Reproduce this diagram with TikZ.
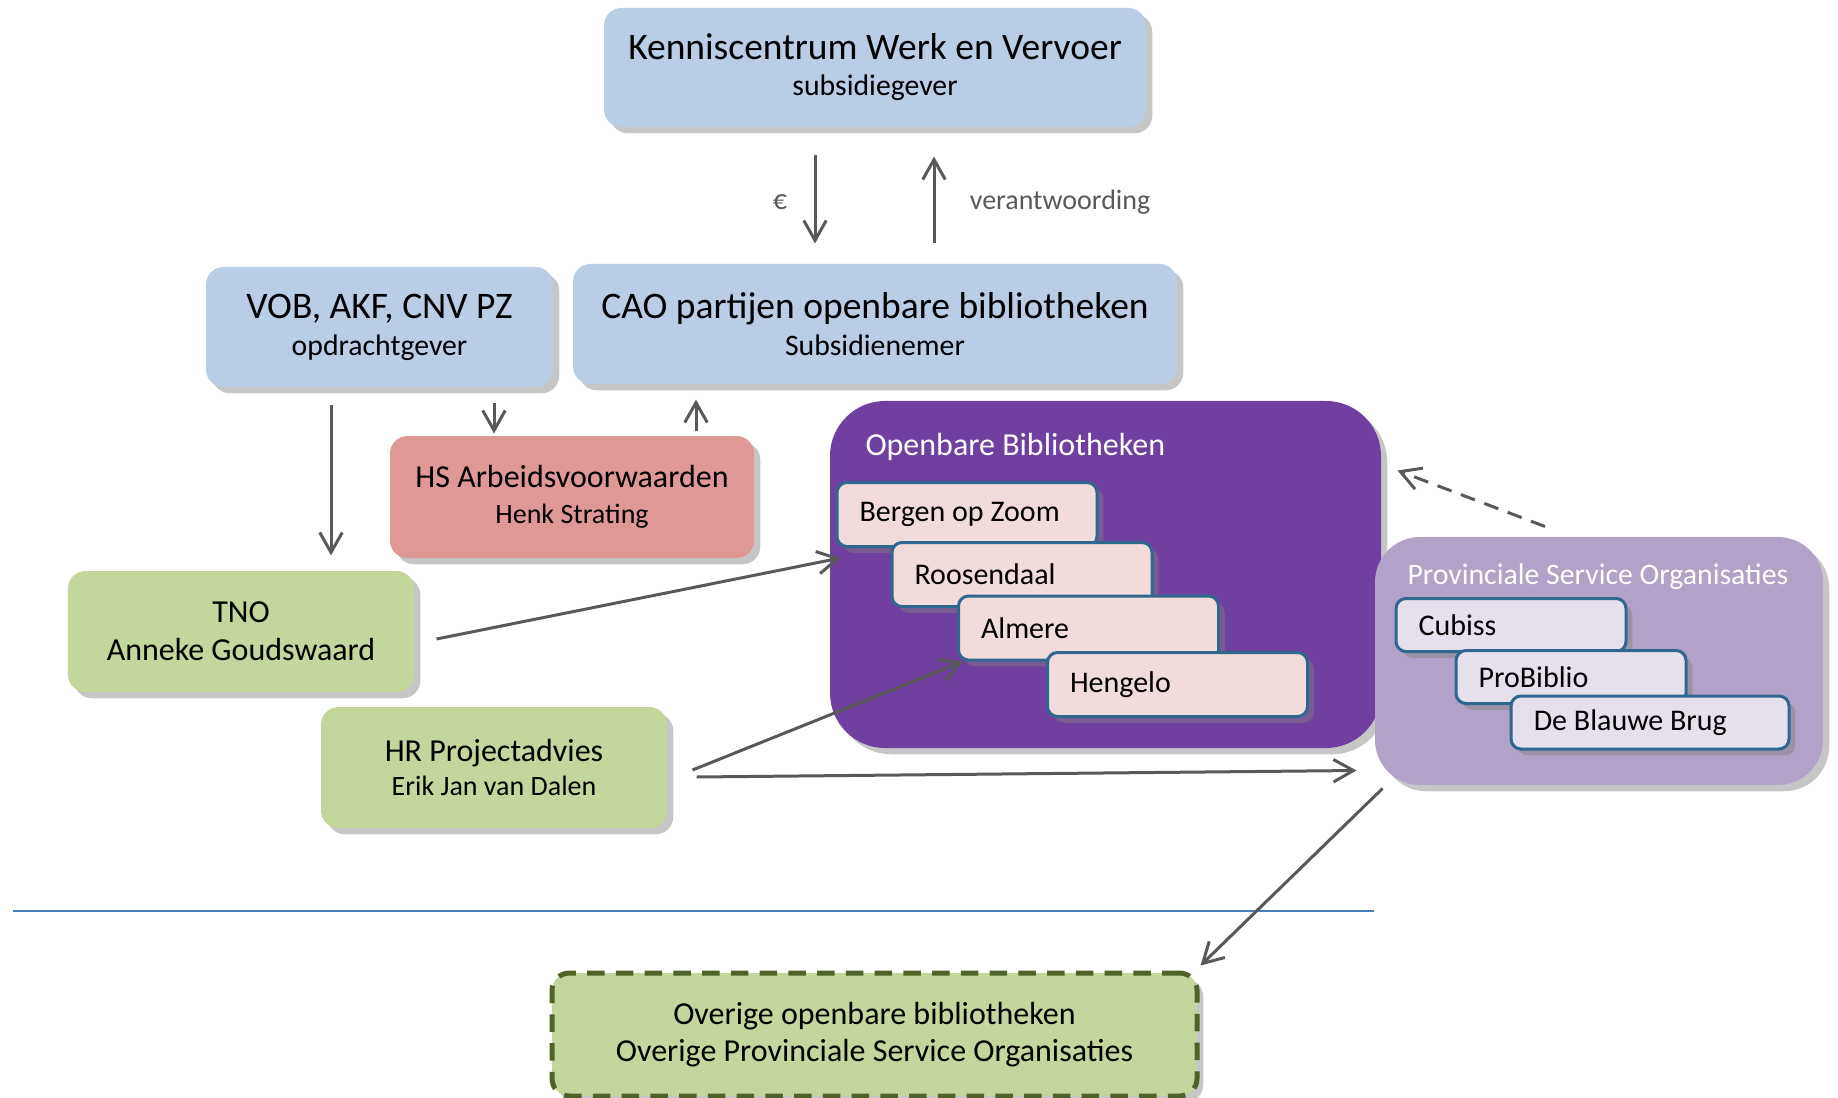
\documentclass[tikz,border=0pt]{standalone}
\usepackage{fontspec}
\setmainfont{Carlito}
\usetikzlibrary{arrows.meta}
\usetikzlibrary{calc}
\usetikzlibrary{shadows}

\definecolor{kvblue}{HTML}{B9CDE5}
\definecolor{hspink}{HTML}{E09896}
\definecolor{advgreen}{HTML}{C3D69B}
\definecolor{obpurple}{HTML}{7040A0}
\definecolor{psolilac}{HTML}{B3A2C7}
\definecolor{cityfill}{HTML}{F2DCDB}
\definecolor{orgfill}{HTML}{E6E0EC}
\definecolor{cityedge}{HTML}{31668F}
\definecolor{arrgray}{HTML}{595959}
\definecolor{dashgreen}{HTML}{4F6228}
\definecolor{sepblue}{HTML}{4A7EBB}

\newcommand{\fbig}{\fontsize{15}{17}\selectfont}
\newcommand{\fmid}{\fontsize{12.8}{15.4}\selectfont}
\newcommand{\fsub}{\fontsize{11.9}{14}\selectfont}
\newcommand{\fsmall}{\fontsize{11.2}{13.4}\selectfont}
\newcommand{\fcity}{\fontsize{12}{14}\selectfont}

\begin{document}
\begin{tikzpicture}[x=0.4pt,y=-0.4pt,
  box/.style={rounded corners=7pt,inner sep=0pt,align=center,
    drop shadow={shadow xshift=2.5pt,shadow yshift=-2.5pt,opacity=0.45}},
  bluebox/.style={box,fill=kvblue},
  greenbox/.style={box,fill=advgreen},
  group/.style={box,rounded corners=22pt},
  city/.style={box,rounded corners=4pt,draw=cityedge,line width=1.2pt,
    fill=cityfill,minimum width=104pt,minimum height=25.6pt,
    text width=86pt,align=flush left,inner xsep=9pt,font=\fcity},
  org/.style={city,fill=orgfill,minimum width=92pt,minimum height=21.2pt,
    text width=74pt,inner xsep=9pt},
  arr/.style={draw=arrgray,line width=1.2pt,-{Straight Barb[length=8pt,width=9pt]}}]
  \useasboundingbox (0,0) rectangle (1838,1098);

  % funding
  \node[bluebox,minimum width=216.8pt,minimum height=47.6pt] (kwv) at (875,67.5)
    {\fbig Kenniscentrum Werk en Vervoer\\[2.4pt]\fsub subsidiegever};
  \node[bluebox,minimum width=241.6pt,minimum height=48pt] (cao) at (875,324)
    {\fbig CAO partijen openbare bibliotheken\\[2.8pt]\fsub Subsidienemer};
  \node[bluebox,minimum width=138.8pt,minimum height=48pt] (vob) at (379.5,327)
    {\fbig VOB, AKF, CNV PZ\\[2.8pt]\fsub opdrachtgever};
  \node[box,fill=hspink,minimum width=145.6pt,minimum height=48.8pt] (hs) at (572,497)
    {\fmid HS Arbeidsvoorwaarden\\[2.4pt]\fsmall Henk Strating};

  % advisers
  \node[greenbox,minimum width=138.4pt,minimum height=48.4pt] (tno) at (241,631.5)
    {\fmid TNO\\[3.3pt]\fmid Anneke Goudswaard};
  \node[greenbox,minimum width=138.4pt,minimum height=48.4pt] (hr) at (494,767.5)
    {\fmid HR Projectadvies\\[1.6pt]\fsmall Erik Jan van Dalen};

  % libraries
  \node[group,fill=obpurple,minimum width=220.4pt,minimum height=138.8pt] (ob) at (1105.5,574.5) {};
  \node[anchor=west,text=white,font=\fmid,inner sep=0pt] (obtitle) at (865,447) {Openbare Bibliotheken};
  \node[city] (bergen) at (967,514.5) {Bergen op Zoom};
  \node[city] (roos) at (1022,574.5) {Roosendaal};
  \node[city] (almere) at (1088.5,628) {Almere};
  \node[city] (hengelo) at (1177.5,684.5) {Hengelo};

  % service organisations
  \node[group,rounded corners=18pt,fill=psolilac,minimum width=179.2pt,minimum height=99.2pt] (pso) at (1599,661) {};
  \node[anchor=west,text=white,font=\fsub,inner sep=0pt] (psotitle) at (1407,577) {Provinciale Service Organisaties};
  \node[org] (cubiss) at (1511,625) {Cubiss};
  \node[org] (probiblio) at (1571,677) {ProBiblio};
  \node[org,minimum width=111.2pt,text width=93pt] (blauwe) at (1650,722.5) {De Blauwe Brug};

  % rest
  \draw[sepblue,line width=0.8pt] (13,911) -- (1374,911);
  \node[greenbox,draw=dashgreen,line width=2pt,dash pattern=on 7pt off 4.5pt,
    minimum width=258pt,minimum height=49.2pt] (overige) at (874.5,1034.5)
    {\fmid Overige openbare bibliotheken\\[3pt]\fmid Overige Provinciale Service Organisaties};

  % connectors
  \draw[arr] ($(kwv.south)+(-60,28)$) -- ($(cao.north)+(-60,-20)$);
  \draw[arr] ($(cao.north)+(59,-20)$) -- ($(kwv.south)+(59,29)$);
  \node[text=arrgray,font=\fsmall] (euro) at (780,202) {€};
  \node[text=arrgray,font=\fsmall,anchor=west] (verantw) at (961,202) {verantwoording};
  \draw[arr] ($(vob.south)+(114.5,15)$) -- ($(hs.north)+(-78,-2)$);
  \draw[arr] ($(hs.north)+(124,-5)$) -- ($(cao.south)+(-179,15)$);
  \draw[arr] ($(vob.south)+(-48.5,17)$) -- ($(tno.north)+(90,-15)$);
  \draw[arr] ($(tno.east)+(22,7.5)$) -- ($(bergen.south west)+(5,10)$);
  \draw[arr] ($(hr.east)+(25,2.5)$) -- ($(almere.south west)+(6,0)$);
  \draw[arr] ($(hr.east)+(29,9.5)$) -- ($(pso.south west)+(-18,-15)$);
  \draw[arr] ($(pso.south west)+(8,3)$) -- ($(overige.north east)+(1,-5)$);
  \draw[arr,dashed,dash pattern=on 6pt off 4pt] ($(pso.north)+(-54,-10)$) -- ($(ob.north east)+(16,70)$);
\end{tikzpicture}
\end{document}
